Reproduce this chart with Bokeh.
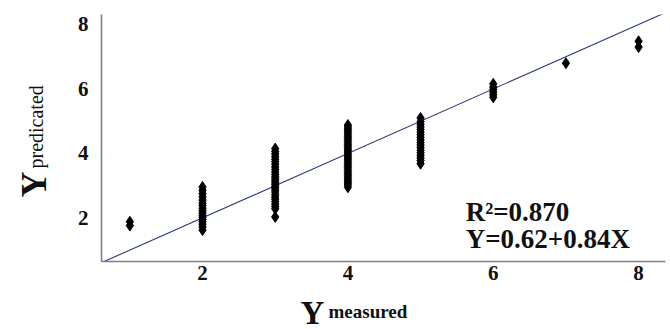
import math
from bokeh.plotting import figure
from bokeh.models import Range1d, FixedTicker, Label
from bokeh.embed import file_html
from bokeh.resources import INLINE

# ---- data ----
x_col1 = [1, 1]
y_col1 = [1.76, 1.88]
x_col2 = [2] * 17
y_col2 = [1.62, 1.72, 1.80, 1.88, 1.95, 2.02, 2.08, 2.15, 2.22, 2.30, 2.38,
          2.45, 2.55, 2.65, 2.75, 2.85, 2.96]
x_col3 = [3] * 28
y_col3 = [2.03, 2.28, 2.35, 2.42, 2.50, 2.58, 2.65, 2.72, 2.80, 2.86, 2.92,
          2.98, 3.04, 3.10, 3.16, 3.22, 3.28, 3.35, 3.42, 3.50, 3.58, 3.66,
          3.74, 3.82, 3.90, 3.98, 4.06, 4.15]
x_col4 = [4] * 33
y_col4 = [2.95, 3.02, 3.08, 3.14, 3.20, 3.26, 3.32, 3.38, 3.44, 3.50, 3.56,
          3.62, 3.68, 3.74, 3.80, 3.86, 3.92, 3.98, 4.04, 4.10, 4.16, 4.22,
          4.28, 4.34, 4.40, 4.46, 4.52, 4.58, 4.64, 4.70, 4.76, 4.82, 4.88]
x_col5 = [5] * 18
y_col5 = [3.68, 3.78, 3.86, 3.94, 4.02, 4.10, 4.18, 4.26, 4.34, 4.42, 4.50,
          4.58, 4.66, 4.74, 4.82, 4.90, 4.98, 5.10]
x_col6 = [6] * 6
y_col6 = [5.74, 5.82, 5.90, 5.98, 6.06, 6.16]
x_col7 = [7]
y_col7 = [6.80]
x_col8 = [8, 8]
y_col8 = [7.30, 7.48]

ref_line_x = [0.61, 8.37]
ref_line_y = [0.61, 8.37]

tick_values = [2, 4, 6, 8]
r2_text = "R\u00b2=0.870"
eq_text = "Y=0.62+0.84X"

measured = x_col1 + x_col2 + x_col3 + x_col4 + x_col5 + x_col6 + x_col7 + x_col8
predicted = y_col1 + y_col2 + y_col3 + y_col4 + y_col5 + y_col6 + y_col7 + y_col8

SERIF = "Liberation Serif"
INK = "#111111"

p = figure(width=670, height=329, output_backend="svg", toolbar_location=None,
           x_range=Range1d(0.61, 8.37), y_range=Range1d(0.646, 8.31),
           min_border_left=101, min_border_right=5, min_border_top=14,
           min_border_bottom=66)
p.outline_line_color = None
p.grid.visible = False
p.background_fill_color = "white"
p.border_fill_color = "white"

for ax in (p.xaxis[0], p.yaxis[0]):
    ax.ticker = FixedTicker(ticks=tick_values)
    ax.minor_tick_line_color = None
    ax.major_tick_line_color = None
    ax.major_tick_in = 0
    ax.major_tick_out = 0
    ax.axis_line_color = "#808080"
    ax.axis_line_width = 1.6
    ax.major_label_text_font = SERIF
    ax.major_label_text_font_style = "bold"
    ax.major_label_text_font_size = "21px"
    ax.major_label_text_color = INK
p.xaxis[0].major_label_standoff = 4
p.yaxis[0].major_label_standoff = 13

p.line(ref_line_x, ref_line_y, line_color="#2b3a7a", line_width=1.1)
p.scatter(measured, predicted, marker="diamond", size=11,
          fill_color="black", line_color="black", line_width=0.9)

p.add_layout(Label(x=5.62, y=2.19, text=r2_text, text_font=SERIF,
                   text_font_style="bold", text_font_size="27px",
                   text_baseline="alphabetic", text_color=INK))
p.add_layout(Label(x=5.62, y=1.33, text=eq_text, text_font=SERIF,
                   text_font_style="bold", text_font_size="27px",
                   text_baseline="alphabetic", text_color=INK))

# axis titles: kept in side panels (so they are not clipped to the frame),
# positioned in canvas pixels
p.add_layout(Label(x=35, y=168, x_units="canvas", y_units="canvas",
                   text="predicated", text_font=SERIF,
                   text_font_size="20px", angle=math.pi / 2,
                   text_baseline="alphabetic", text_color=INK), "left")
p.add_layout(Label(x=300, y=312, x_units="canvas", y_units="canvas",
                   text="Y", text_font=SERIF, text_font_style="bold",
                   text_font_size="33px", text_baseline="alphabetic",
                   text_color=INK), "left")
p.add_layout(Label(x=328, y=311, x_units="canvas", y_units="canvas",
                   text="measured", text_font=SERIF, text_font_style="bold",
                   text_font_size="19px", text_baseline="alphabetic",
                   text_color=INK), "below")
p.add_layout(Label(x=33, y=197, x_units="canvas", y_units="canvas",
                   text="Y", text_font=SERIF, text_font_style="bold",
                   text_font_size="36px", angle=math.pi / 2,
                   text_baseline="alphabetic", text_color=INK), "below")

open("out.html", "w").write(file_html(p, INLINE))
